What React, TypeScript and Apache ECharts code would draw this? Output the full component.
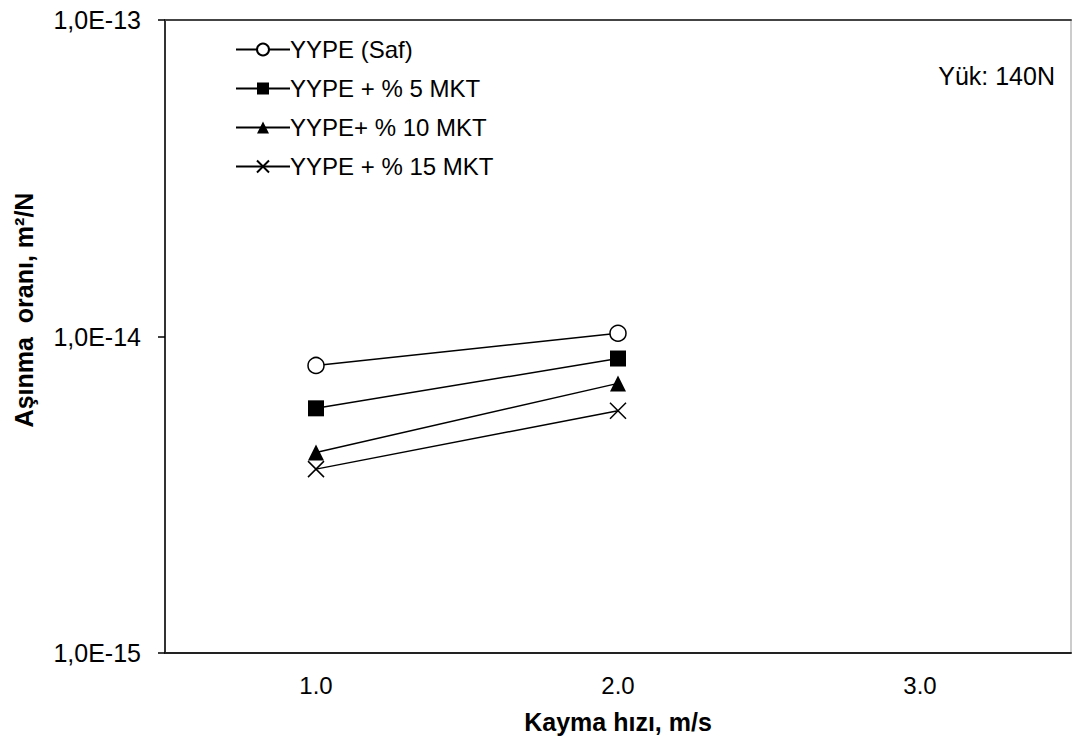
import React, { useEffect, useRef } from "react";
import * as echarts from "echarts";

const xValues = [1.0, 2.0];
const seriesNames = ["YYPE (Saf)", "YYPE + % 5 MKT", "YYPE+ % 10 MKT", "YYPE + % 15 MKT"];
const safValues = [8.1e-15, 1.024e-14];
const mkt5Values = [5.93e-15, 8.52e-15];
const mkt10Values = [4.3e-15, 7.11e-15];
const mkt15Values = [3.81e-15, 5.83e-15];
const yMin = 1e-15;
const yMax = 1e-13;
const xMin = 0.5;
const xMax = 3.5;
const xTickLabels = [1, 2, 3];
const loadNote = "Yük: 140N";
const xTitle = "Kayma hızı, m/s";
const yTitle = "Aşınma  oranı, m²/N";

const FONT = '"Liberation Sans", Arial, sans-serif';

export default function App() {
  const ref = useRef<HTMLDivElement>(null);
  useEffect(() => {
    if (!ref.current) return;
    const chart = echarts.init(ref.current, undefined, { renderer: "svg" });
    const pair = (vals: number[]) => xValues.map((x, i) => [x, vals[i]]);
    const lineStyle = { color: "#000", width: 1.5 };
    const option: any = {
      animation: false,
      backgroundColor: "#fff",
      textStyle: { fontFamily: FONT },
      grid: {
        left: 165,
        right: 1,
        top: 20,
        bottom: 96,
        show: true,
        borderColor: "#999",
        borderWidth: 1,
        backgroundColor: "transparent",
      },
      legend: {
        orient: "vertical",
        left: 235,
        top: 36,
        padding: 0,
        itemWidth: 54,
        itemHeight: 15,
        itemGap: 12,
        textStyle: { fontSize: 24, lineHeight: 27, color: "#000", fontFamily: FONT, padding: [0, 0, 0, -5] },
        data: seriesNames,
      },
      xAxis: [
        {
          type: "value",
          min: xMin,
          max: xMax,
          interval: 0.5,
          axisLine: { show: true, lineStyle: { color: "#222", width: 2 } },
          axisTick: { show: false },
          splitLine: { show: false },
          axisLabel: {
            margin: 20,
            fontSize: 24,
            color: "#000",
            fontFamily: FONT,
            formatter: (v: number) => (xTickLabels.includes(v) ? v.toFixed(1) : ""),
          },
          name: xTitle,
          nameLocation: "middle",
          nameGap: 56,
          nameTextStyle: { fontSize: 25, fontWeight: "bold", color: "#000", fontFamily: FONT },
        },
        {
          type: "value",
          position: "top",
          min: xMin,
          max: xMax,
          axisLine: { show: true, lineStyle: { color: "#444", width: 2 } },
          axisTick: { show: false },
          axisLabel: { show: false },
          splitLine: { show: false },
        },
      ],
      yAxis: {
        type: "log",
        logBase: 10,
        min: yMin,
        max: yMax,
        interval: 1,
        axisLine: { show: true, lineStyle: { color: "#000", width: 1.5 } },
        axisTick: { show: true, inside: false, length: 7, lineStyle: { color: "#000", width: 1.5 } },
        minorTick: { show: false },
        splitLine: { show: false },
        axisLabel: {
          margin: 24,
          fontSize: 25,
          color: "#000",
          fontFamily: FONT,
          formatter: (v: number) => `1,0E${Math.round(Math.log10(v))}`,
        },
      },
      graphic: [
        {
          type: "text",
          x: 1055,
          y: 76,
          style: {
            text: loadNote,
            font: `25px ${FONT}`,
            fill: "#000",
            textAlign: "right",
            textVerticalAlign: "middle",
          },
        },
        {
          type: "text",
          x: 24,
          y: 310,
          rotation: Math.PI / 2,
          style: {
            text: yTitle,
            font: `bold 25px ${FONT}`,
            fill: "#000",
            textAlign: "center",
            textVerticalAlign: "middle",
          },
        },
      ],
      series: [
        {
          name: seriesNames[0],
          type: "line",
          data: pair(safValues),
          symbol: "circle",
          symbolSize: 16,
          lineStyle,
          itemStyle: { color: "#fff", borderColor: "#000", borderWidth: 1.5 },
        },
        {
          name: seriesNames[1],
          type: "line",
          data: pair(mkt5Values),
          symbol: "rect",
          symbolSize: 16,
          lineStyle,
          itemStyle: { color: "#000", borderColor: "#000", borderWidth: 0 },
        },
        {
          name: seriesNames[2],
          type: "line",
          data: pair(mkt10Values),
          symbol: "triangle",
          symbolSize: 16,
          lineStyle,
          itemStyle: { color: "#000", borderColor: "#000", borderWidth: 0 },
        },
        {
          name: seriesNames[3],
          type: "line",
          data: pair(mkt15Values),
          symbol: "path://M0,0L10,10M10,0L0,10",
          symbolSize: 16,
          lineStyle,
          itemStyle: { color: "none", borderColor: "#000", borderWidth: 1.5 },
        },
      ],
    };
    chart.setOption(option);
    return () => chart.dispose();
  }, []);
  return (
    <div
      ref={ref}
      style={{ position: "absolute", left: 0, top: 0, width: 1074, height: 749, background: "#fff" }}
    />
  );
}
